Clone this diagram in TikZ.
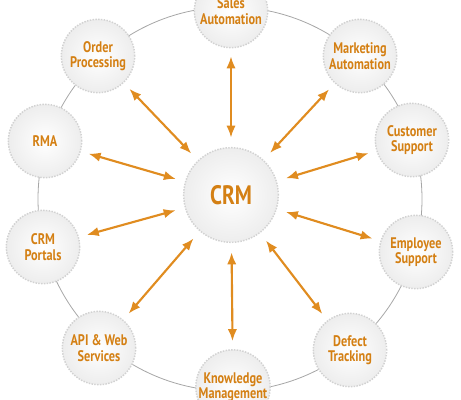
\documentclass[tikz,border=0pt]{standalone}
\usepackage{fontspec}
\newfontfamily\crmfont[FakeStretch=0.8]{PT Sans}
\usetikzlibrary{arrows.meta}

\definecolor{crmtext}{RGB}{212,128,20}
\definecolor{crmarrow}{RGB}{224,140,32}

\tikzset{
  bubble/.style={circle, draw=gray!35, densely dotted, line width=1.1pt,
    inner color=white, outer color=gray!14, minimum size=55pt, inner sep=0pt,
    align=center, text=crmtext, font=\crmfont\bfseries\fontsize{11.5}{11.5}\selectfont},
  hub/.style={bubble, minimum size=71pt, font=\crmfont\bfseries\fontsize{20}{20}\selectfont},
  link/.style={draw=crmarrow, solid, line width=1.6pt,
    {Latex[length=9pt,width=7pt]}-{Latex[length=9pt,width=7pt]},
    shorten <=7pt, shorten >=6pt},
}

\begin{document}
\begin{tikzpicture}[x=0.75pt,y=-0.75pt]
  \path[use as bounding box, clip] (0,0) rectangle (461,400);

  \draw[gray!70, line width=0.6pt] (230,199) circle [radius=144pt];

  \node[hub] (crm) at (231,195) {CRM};

  \node[bubble] (sales)     at (231,11)  {Sales\\Automation};
  \node[bubble] (market)    at (360,56)  {Marketing\\Automation};
  \node[bubble] (custsup)   at (412,140) {Customer\\Support};
  \node[bubble] (empsup)    at (416,252) {Employee\\Support};
  \node[bubble] (defect)    at (350,350) {Defect\\Tracking};
  \node[bubble] (knowledge) at (233,387) {Knowledge\\Management};
  \node[bubble] (api)       at (99,348)  {API \& Web\\Services};
  \node[bubble] (portals)   at (43,247)  {CRM\\Portals};
  \node[bubble] (rma)       at (45,141)  {RMA};
  \node[bubble] (order)     at (98,56)   {Order\\Processing};

  \foreach \n in {sales,market,custsup,empsup,defect,knowledge,api,portals,rma,order} {
    \draw[link] (crm) -- (\n);
  }
\end{tikzpicture}
\end{document}
